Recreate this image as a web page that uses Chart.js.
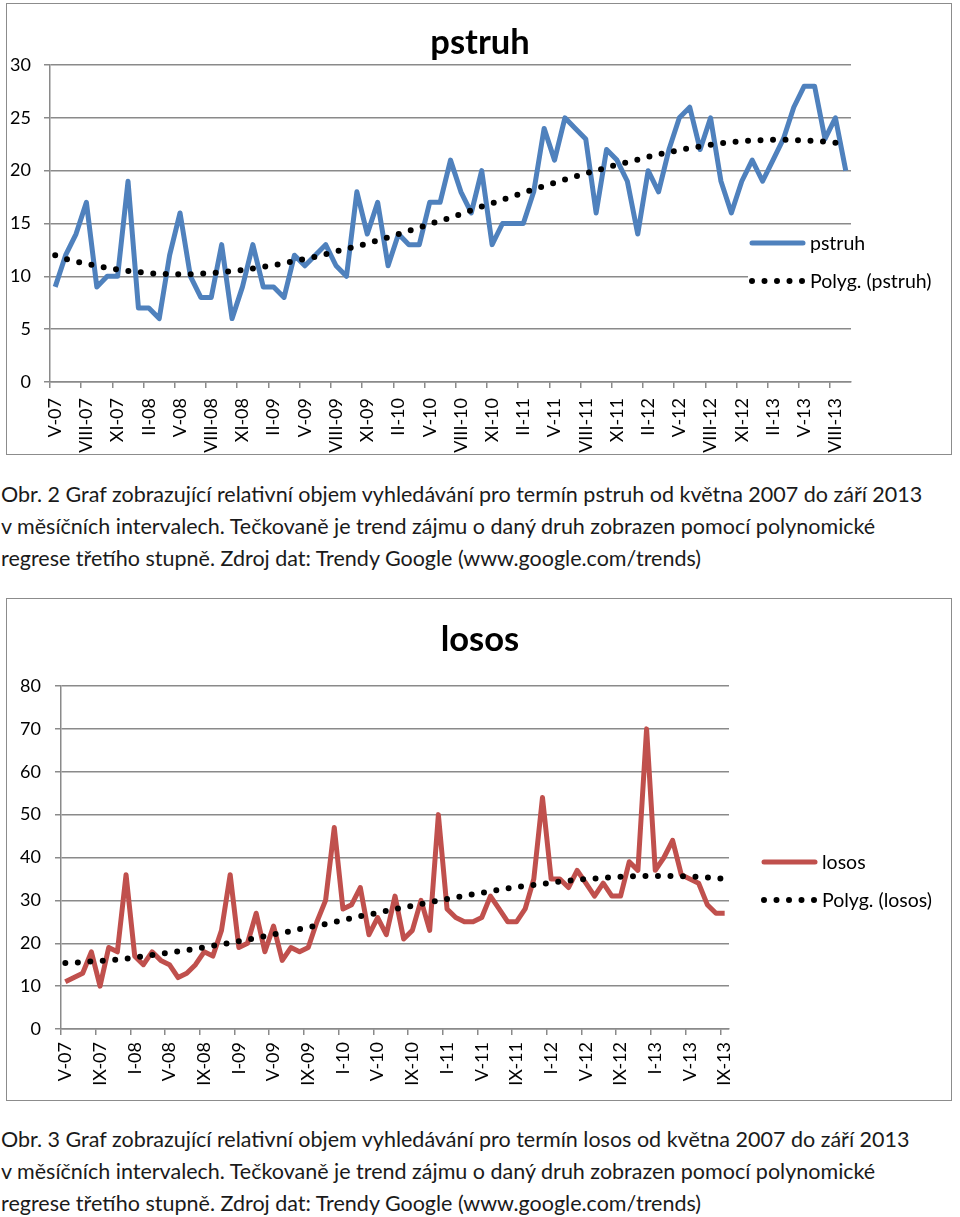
<!DOCTYPE html>
<html lang="cs">
<head>
<meta charset="utf-8">
<title>pstruh a losos – Trendy Google</title>
<script src="https://cdn.jsdelivr.net/npm/chart.js@4.4.0/dist/chart.umd.min.js"></script>
<style>
    body { margin: 0; background: #fff; width: 960px; height: 1217px; position: relative; overflow: hidden; font-family: Lato, sans-serif; }
    .frame { position: absolute; left: 6px; width: 946px; border: 1px solid #8c8c8c; box-sizing: border-box; background: #fff; }
    .frame canvas { display: block; }
    .caption { position: absolute; left: 1px; font-size: 21.5px; line-height: 32px; color: #1a1a1a; white-space: nowrap; }
</style>
</head>
<body>

<div class="frame" style="top:3px;height:452px"><canvas id="pstruhChart" width="944" height="450"></canvas></div>
<div class="caption" style="top:478px">
Obr. 2 Graf zobrazující relativní objem vyhledávání pro termín pstruh od května 2007 do září 2013<br>
v měsíčních intervalech. Tečkovaně je trend zájmu o daný druh zobrazen pomocí polynomické<br>
regrese třetího stupně. Zdroj dat: Trendy Google (www.google.com/trends)
</div>

<div class="frame" style="top:598px;height:503px"><canvas id="lososChart" width="944" height="501"></canvas></div>
<div class="caption" style="top:1123px">
Obr. 3 Graf zobrazující relativní objem vyhledávání pro termín losos od května 2007 do září 2013<br>
v měsíčních intervalech. Tečkovaně je trend zájmu o daný druh zobrazen pomocí polynomické<br>
regrese třetího stupně. Zdroj dat: Trendy Google (www.google.com/trends)
</div>

<script>
// Měsíce V-07 až IX-13
const categories = [
    'V-07','VI-07','VII-07','VIII-07','IX-07','X-07','XI-07','XII-07',
    'I-08','II-08','III-08','IV-08','V-08','VI-08','VII-08','VIII-08','IX-08','X-08','XI-08','XII-08',
    'I-09','II-09','III-09','IV-09','V-09','VI-09','VII-09','VIII-09','IX-09','X-09','XI-09','XII-09',
    'I-10','II-10','III-10','IV-10','V-10','VI-10','VII-10','VIII-10','IX-10','X-10','XI-10','XII-10',
    'I-11','II-11','III-11','IV-11','V-11','VI-11','VII-11','VIII-11','IX-11','X-11','XI-11','XII-11',
    'I-12','II-12','III-12','IV-12','V-12','VI-12','VII-12','VIII-12','IX-12','X-12','XI-12','XII-12',
    'I-13','II-13','III-13','IV-13','V-13','VI-13','VII-13','VIII-13','IX-13'
];

// pstruh – relativní objem vyhledávání
const pstruhValues = [
    9, 12, 14, 17, 9, 10, 10, 19, 7, 7,
    6, 12, 16, 10, 8, 8, 13, 6, 9, 13,
    9, 9, 8, 12, 11, 12, 13, 11, 10, 18,
    14, 17, 11, 14, 13, 13, 17, 17, 21, 18,
    16, 20, 13, 15, 15, 15, 18, 24, 21, 25,
    24, 23, 16, 22, 21, 19, 14, 20, 18, 22,
    25, 26, 22, 25, 19, 16, 19, 21, 19, 21,
    23, 26, 28, 28, 23, 25, 20
];

// Polyg. (pstruh)
const pstruhTrend = [
    12.0, 11.65, 11.4, 11.2, 11.0, 10.8, 10.65, 10.5, 10.4, 10.3,
    10.25, 10.2, 10.2, 10.2, 10.25, 10.3, 10.4, 10.5, 10.6, 10.75,
    10.9, 11.05, 11.25, 11.45, 11.65, 11.85, 12.1, 12.35, 12.6, 12.85,
    13.1, 13.4, 13.7, 14.0, 14.3, 14.6, 14.95, 15.25, 15.55, 15.9,
    16.25, 16.6, 16.9, 17.25, 17.6, 17.9, 18.25, 18.55, 18.85, 19.15,
    19.45, 19.75, 20.0, 20.3, 20.55, 20.8, 21.05, 21.3, 21.55, 21.75,
    21.95, 22.15, 22.3, 22.45, 22.6, 22.7, 22.8, 22.85, 22.9, 22.92,
    22.92, 22.9, 22.85, 22.8, 22.75, 22.65, 22.55
];

// losos – relativní objem vyhledávání
const lososValues = [
    11, 12, 13, 18, 10, 19, 18, 36, 17, 15,
    18, 16, 15, 12, 13, 15, 18, 17, 23, 36,
    19, 20, 27, 18, 24, 16, 19, 18, 19, 25,
    30, 47, 28, 29, 33, 22, 26, 22, 31, 21,
    23, 30, 23, 50, 28, 26, 25, 25, 26, 31,
    28, 25, 25, 28, 35, 54, 35, 35, 33, 37,
    34, 31, 34, 31, 31, 39, 37, 70, 37, 40,
    44, 36, 35, 34, 29, 27, 27
];

// Polyg. (losos)
const lososTrend = [
    15.4, 15.45, 15.6, 15.75, 15.9, 16.05, 16.2, 16.4, 16.65, 16.95,
    17.25, 17.5, 17.8, 18.1, 18.4, 18.7, 19.05, 19.4, 19.75, 20.1,
    20.45, 20.85, 21.25, 21.65, 22.05, 22.45, 22.85, 23.3, 23.7, 24.1,
    24.5, 24.95, 25.4, 25.85, 26.3, 26.7, 27.1, 27.55, 27.95, 28.35,
    28.75, 29.15, 29.55, 29.95, 30.35, 30.7, 31.05, 31.4, 31.75, 32.1,
    32.45, 32.8, 33.1, 33.35, 33.6, 33.85, 34.1, 34.4, 34.6, 34.8,
    34.95, 35.1, 35.3, 35.4, 35.5, 35.6, 35.65, 35.7, 35.7, 35.7,
    35.7, 35.65, 35.55, 35.5, 35.35, 35.2, 35.05
];

const gridColor = '#8a8a8a';
Chart.defaults.font.family = 'Lato, sans-serif';
Chart.defaults.color = '#000';

// Nadpis uprostřed celého rámečku + legenda přes plochu grafu (jako v Excelu)
const excelDecor = {
    id: 'excelDecor',
    afterDraw(chart, args, o) {
        const ctx = chart.ctx;
        const ds = chart.data.datasets;
        ctx.save();

        ctx.fillStyle = '#000';
        ctx.font = 'bold 34.5px Lato, sans-serif';
        ctx.textAlign = 'center';
        ctx.textBaseline = 'alphabetic';
        ctx.fillText(o.title, chart.width / 2 + 1, o.titleY);

        ctx.fillStyle = '#fff';
        ctx.fillRect(o.x - 4, o.y - 13, 200, o.gap + 28);

        // řádek 1 – plná čára
        ctx.beginPath();
        ctx.lineCap = 'round';
        ctx.lineWidth = ds[1].borderWidth;
        ctx.strokeStyle = ds[1].borderColor;
        ctx.moveTo(o.x, o.y);
        ctx.lineTo(o.x + 51, o.y);
        ctx.stroke();

        // řádek 2 – tečkovaná čára
        ctx.beginPath();
        ctx.setLineDash(ds[0].borderDash);
        ctx.lineWidth = ds[0].borderWidth;
        ctx.strokeStyle = ds[0].borderColor;
        ctx.moveTo(o.x, o.y + o.gap);
        ctx.lineTo(o.x + 52, o.y + o.gap);
        ctx.stroke();
        ctx.setLineDash([]);

        ctx.fillStyle = '#000';
        ctx.font = '19.5px Lato, sans-serif';
        ctx.textAlign = 'left';
        ctx.textBaseline = 'middle';
        ctx.fillText(ds[1].label, o.x + 58, o.y + 1);
        ctx.fillText(ds[0].label, o.x + 58, o.y + o.gap + 1);
        ctx.restore();
    }
};

function makeChart(canvasId, cfg) {
    const step = cfg.labelStep;
    return new Chart(document.getElementById(canvasId), {
        type: 'line',
        data: {
            labels: categories,
            datasets: [{
                label: 'Polyg. (' + cfg.title + ')',
                data: cfg.trend,
                borderColor: '#000',
                borderWidth: 6,
                borderDash: [0, 12.5],
                borderCapStyle: 'round',
                pointRadius: 0,
                order: 0
            }, {
                label: cfg.title,
                data: cfg.values,
                borderColor: cfg.color,
                borderWidth: 5,
                borderJoinStyle: 'round',
                pointRadius: 0,
                tension: 0,
                order: 1
            }]
        },
        options: {
            responsive: false,
            animation: false,
            devicePixelRatio: 1,
            layout: { padding: { left: 0, right: cfg.padRight, top: cfg.padTop, bottom: 0 } },
            plugins: {
                legend: { display: false },
                tooltip: { enabled: false },
                title: { display: false },
                excelDecor: cfg.decor
            },
            scales: {
                x: {
                    offset: true,
                    grid: {
                        offset: true,
                        drawOnChartArea: false,
                        drawTicks: true,
                        tickLength: 6,
                        lineWidth: 1.5,
                        tickColor: ctx => (ctx.index % step === 0 ? gridColor : 'rgba(0,0,0,0)')
                    },
                    border: { display: true, color: gridColor, width: 1.5 },
                    ticks: {
                        autoSkip: false,
                        minRotation: 90,
                        maxRotation: 90,
                        padding: cfg.xPad,
                        font: { size: 18 },
                        callback: function(val, i) {
                            return i % step === 0 ? this.getLabelForValue(val) : '';
                        }
                    },
                    afterFit: s => { s.height = cfg.xHeight; }
                },
                y: {
                    min: 0,
                    max: cfg.max,
                    ticks: { stepSize: cfg.stepSize, padding: cfg.yPad, font: { size: 18 } },
                    grid: { color: gridColor, lineWidth: 1.5, tickLength: 6 },
                    border: { display: true, color: gridColor, width: 1.5 },
                    afterFit: s => { s.width = cfg.yWidth; }
                }
            }
        },
        plugins: [excelDecor]
    });
}

makeChart('pstruhChart', {
    title: 'pstruh',
    values: pstruhValues,
    trend: pstruhTrend,
    color: '#4F81BD',
    labelStep: 3,
    max: 30,
    stepSize: 5,
    padRight: 100,
    padTop: 61,
    yWidth: 43,
    yPad: 13,
    xHeight: 72,
    xPad: 10,
    decor: { title: 'pstruh', titleY: 50, x: 745, y: 239, gap: 38 }
});

makeChart('lososChart', {
    title: 'losos',
    values: lososValues,
    trend: lososTrend,
    color: '#C0504D',
    labelStep: 4,
    max: 80,
    stepSize: 10,
    padRight: 222,
    padTop: 87,
    yWidth: 54,
    yPad: 14,
    xHeight: 71,
    xPad: 7,
    decor: { title: 'losos', titleY: 52, x: 757, y: 263, gap: 38 }
});
</script>
</body>
</html>
